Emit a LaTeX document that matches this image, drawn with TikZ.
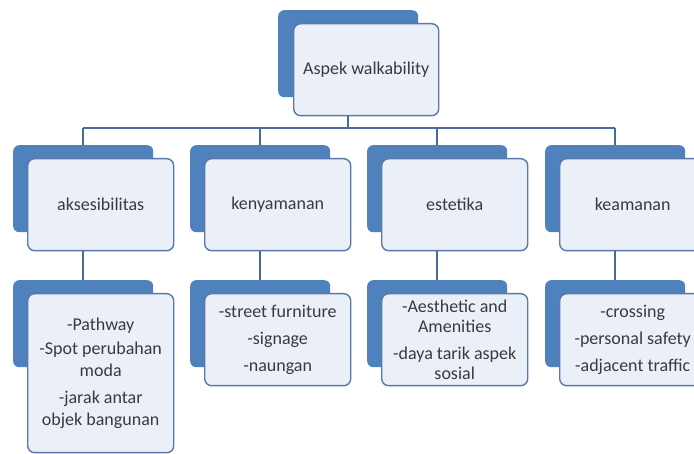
\documentclass[tikz,border=0pt]{standalone}
\usepackage{fontspec}
\setmainfont{Carlito}
\definecolor{bk}{HTML}{4F81BD}
\definecolor{fr}{HTML}{EBF0F8}
\definecolor{frd}{HTML}{5A79A8}
\definecolor{cn}{HTML}{4A6A9A}
\definecolor{tx}{HTML}{3A3A3A}
\tikzset{
  backbox/.style={fill=bk, rounded corners=6pt, minimum width=140pt, minimum height=87pt, anchor=north west, inner sep=0pt},
  frontbox/.style={fill=fr, draw=frd, line width=1.4pt, rounded corners=7pt, minimum width=146pt, minimum height=92pt, anchor=north west, align=center, font=\fontsize{18}{22}\selectfont, text=tx, inner sep=0pt},
  conn/.style={draw=cn, line width=1.6pt}
}
\begin{document}
\begin{tikzpicture}[x=1pt,y=-1pt]
\useasboundingbox (0,0) rectangle (694,454);
\clip (0,0) rectangle (694,454);
\fill[white] (0,0) rectangle (694,454);
% top
\node[backbox] (tb) at (278,10) {};
\node[frontbox, minimum width=145pt] (tf) at (293,23) {Aspek walkability};
% level 2
\node[backbox] (b1) at (13,145) {};
\node[frontbox] (f1) at (27,158) {aksesibilitas};
\node[backbox] (b2) at (190,145) {};
\node[frontbox] (f2) at (204,158) {kenyamanan};
\node[backbox] (b3) at (367,145) {};
\node[frontbox] (f3) at (381,158) {estetika};
\node[backbox] (b4) at (545,145) {};
\node[frontbox] (f4) at (559,158) {keamanan};
% level 3
\node[backbox] (c1) at (13,280) {};
\node[frontbox, minimum height=159pt] (g1) at (27,293) {-Pathway\\[2pt]-Spot perubahan\\moda\\[5pt]-jarak antar\\objek bangunan};
\node[backbox] (c2) at (190,280) {};
\node[frontbox] (g2) at (204,293) {-street furniture\\[5pt]-signage\\[5pt]-naungan};
\node[backbox] (c3) at (367,280) {};
\node[frontbox, font=\fontsize{18}{20.5}\selectfont] (g3) at (381,293) {-Aesthetic and\\Amenities\\[6pt]-daya tarik aspek\\sosial};
\node[backbox] (c4) at (545,280) {};
\node[frontbox] (g4) at (559,293) {-crossing\\[5pt]-personal safety\\[5pt]-adjacent traffic};
% connectors
\coordinate (bus) at (0,128);
\draw[conn] (tb |- tf.south) -- (tb |- bus);
\draw[conn] (b1 |- bus) -- (b4 |- bus);
\foreach \i in {1,2,3,4}{
  \draw[conn] (b\i |- bus) -- (b\i.north);
  \draw[conn] (b\i |- f\i.south) -- (c\i.north);
}
\end{tikzpicture}
\end{document}
